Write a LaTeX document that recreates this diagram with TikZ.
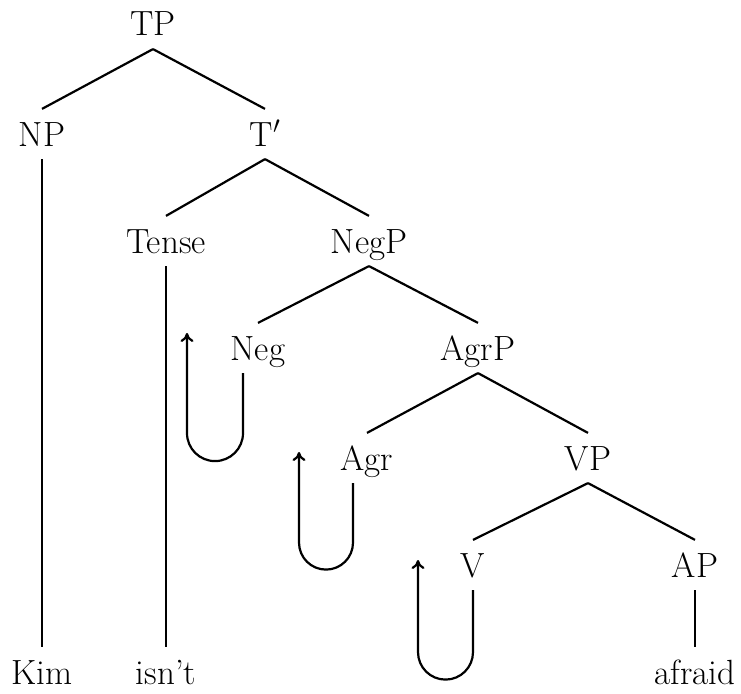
\RequirePackage{fix-cm}
\documentclass[tikz,border=0pt]{standalone}
\usetikzlibrary{arrows.meta}

\begin{document}
\begin{tikzpicture}[x=1pt,y=-1pt,line width=2.2pt,
    cat/.style={font=\fontsize{35}{40}\selectfont,anchor=base,text height=24pt,text depth=0pt,inner xsep=2pt,inner ysep=12pt},
    move/.style={-{To[length=9pt,width=13pt]}}]
    \useasboundingbox (0,0) rectangle (741,693);
    \node[cat] (TP) at (153,36) {TP};
    \node[cat] (NP) at (42,146) {NP};
    \node[cat] (Tbar) at (265,146) {T$'$};
    \node[cat] (Tense) at (166,253) {Tense};
    \node[cat] (NegP) at (369,253) {NegP};
    \node[cat] (Neg) at (258,360) {Neg};
    \node[cat] (AgrP) at (478,360) {AgrP};
    \node[cat] (Agr) at (367,470) {Agr};
    \node[cat] (VP) at (588,470) {VP};
    \node[cat] (V) at (473,577) {V};
    \node[cat] (AP) at (695,577) {AP};
    \node[cat] (Kim) at (42,684) {Kim};
    \node[cat] (isnt) at (166,684) {isn't};
    \node[cat] (afraid) at (695,684) {afraid};
    \coordinate (negt) at (187,333);
    \coordinate (agrt) at (299,452);
    \coordinate (vt) at (418,560);
    \draw (TP.south) -- (NP.north);
    \draw (TP.south) -- (Tbar.north);
    \draw (Tbar.south) -- (Tense.north);
    \draw (Tbar.south) -- (NegP.north);
    \draw (NegP.south) -- (Neg.north);
    \draw (NegP.south) -- (AgrP.north);
    \draw (AgrP.south) -- (Agr.north);
    \draw (AgrP.south) -- (VP.north);
    \draw (VP.south) -- (V.north);
    \draw (VP.south) -- (AP.north);
    \draw (NP.south) -- (Kim.north);
    \draw (Tense.south) -- (isnt.north);
    \draw (AP.south) -- (afraid.north);
    \draw[move] ([xshift=-15pt]Neg.south) -- ++(0,60) arc[start angle=0,end angle=180,radius=28] -- (negt);
    \draw[move] ([xshift=-14pt]Agr.south) -- ++(0,59.5) arc[start angle=0,end angle=180,radius=27] -- (agrt);
    \draw[move] (V.south) -- ++(0,62) arc[start angle=0,end angle=180,radius=27.5] -- (vt);
\end{tikzpicture}
\end{document}
